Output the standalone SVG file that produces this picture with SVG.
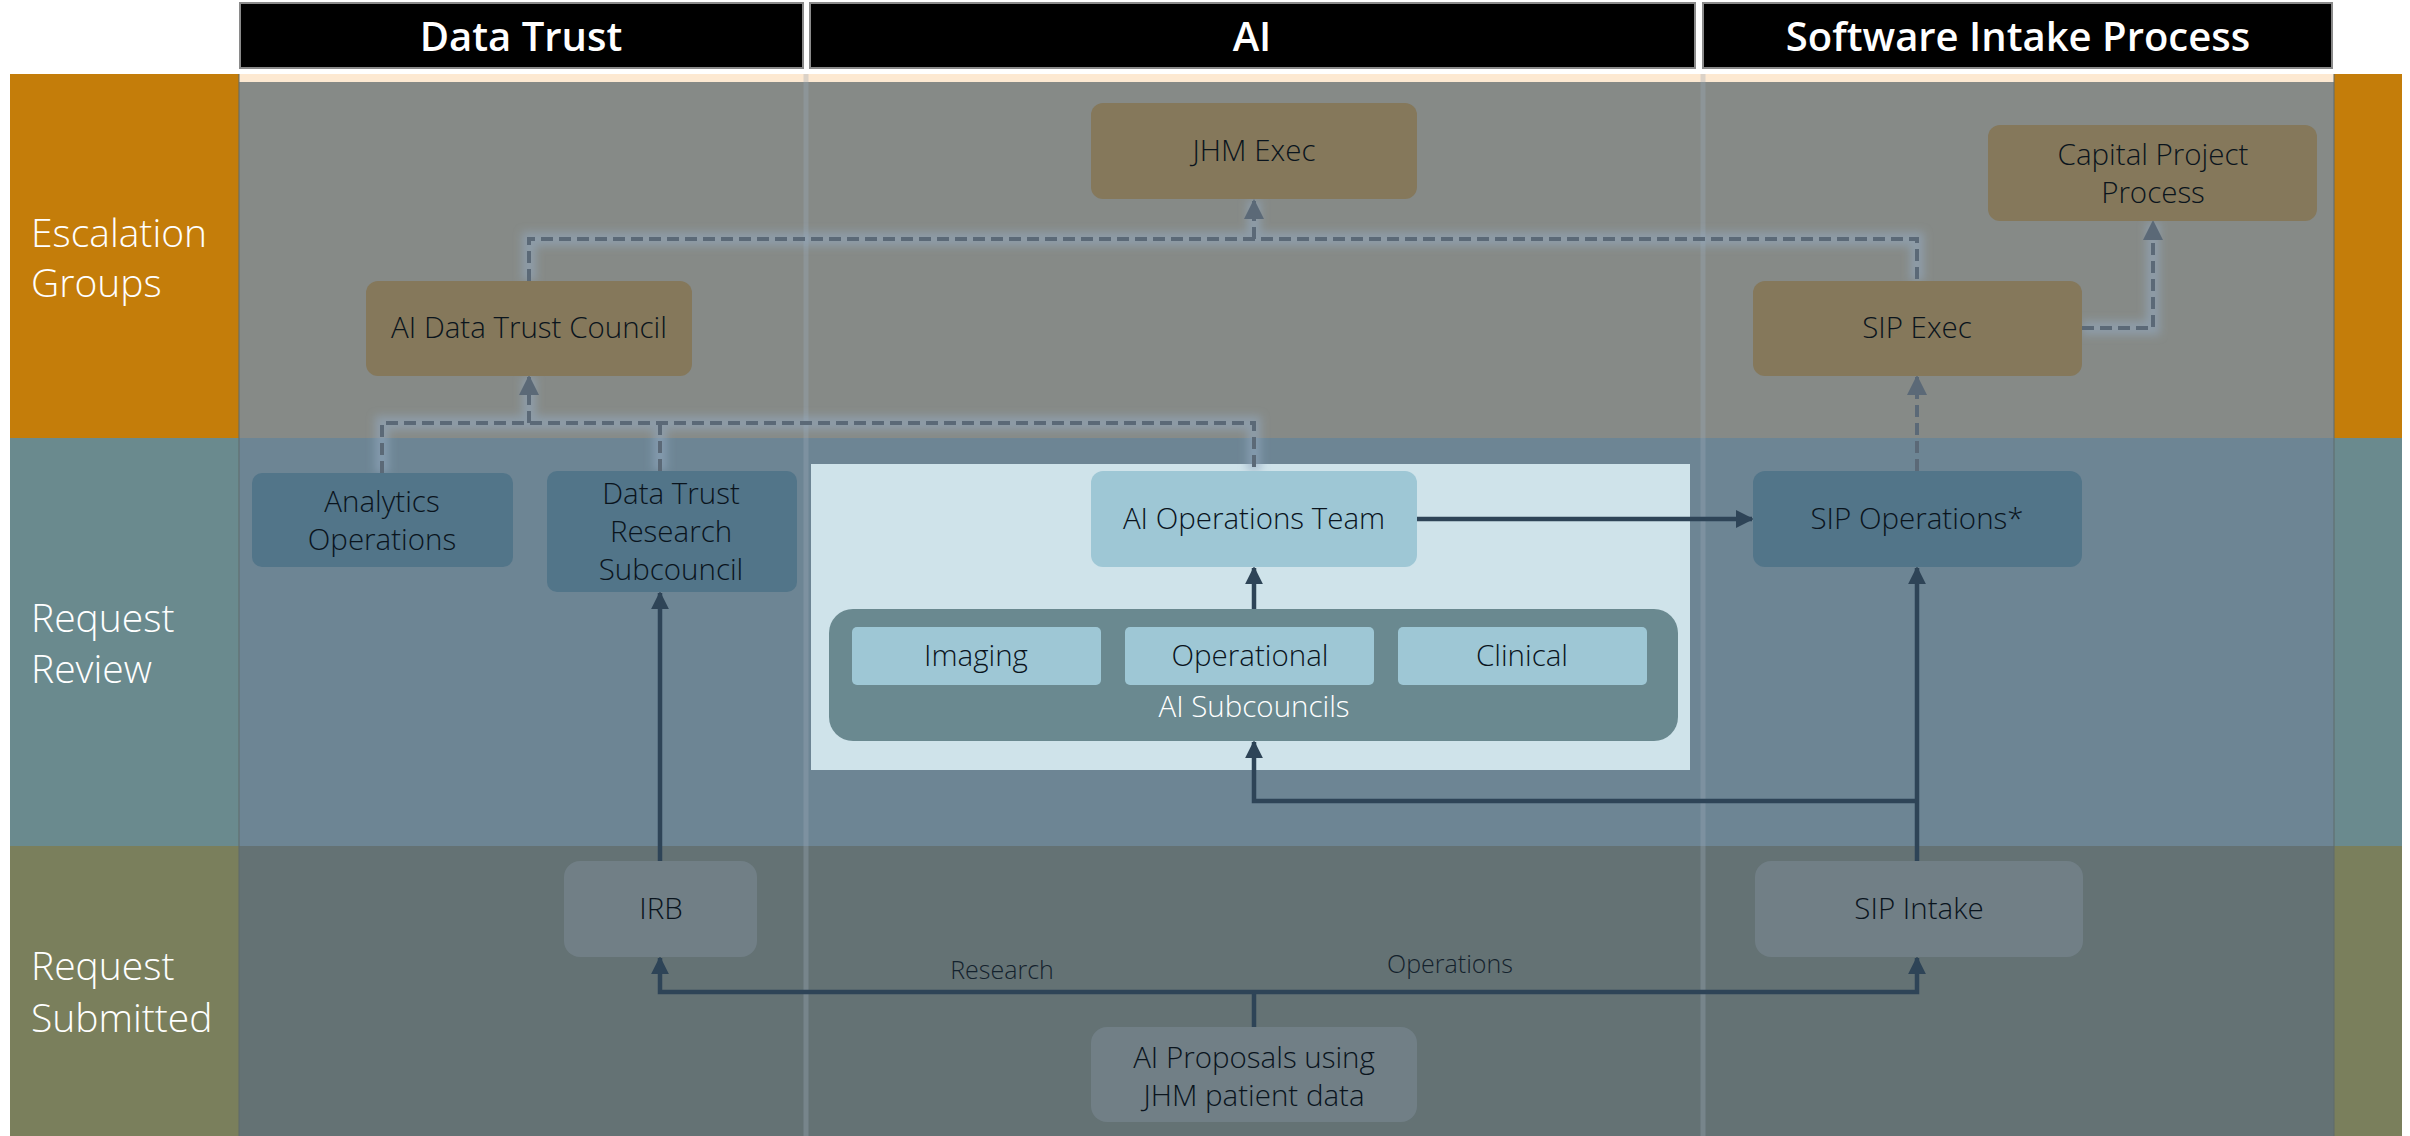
<svg xmlns="http://www.w3.org/2000/svg" width="2410" height="1136" viewBox="0 0 2410 1136">
<style>
.hdr{fill:#000;stroke:#8a8a8a;stroke-width:2}
.htxt{font-family:"Open Sans","Liberation Sans",sans-serif;font-weight:600;font-size:40px;fill:#fff;text-anchor:middle}
.lane{font-family:"Open Sans","Liberation Sans",sans-serif;font-weight:300;font-size:39px;fill:#fff}
.nt{font-family:"Open Sans","Liberation Sans",sans-serif;font-weight:300;font-size:29.5px;fill:#0a141d;text-anchor:middle}
.lbl{font-family:"Open Sans","Liberation Sans",sans-serif;font-weight:300;font-size:25px;fill:#14222d;text-anchor:middle}
.brown{fill:#85785b}
.blue{fill:#527589}
.light{fill:#9ec7d5}
.gray{fill:#717f86}
.glow{fill:none;stroke:#93a9be;stroke-opacity:0.6;stroke-width:14;filter:url(#blur)}
.dash{fill:none;stroke:#5b6977;stroke-width:4;stroke-dasharray:12 6}
.solid{fill:none;stroke:#2e4457;stroke-width:4.5}
.div{stroke:#9aaab8;stroke-opacity:0.35;stroke-width:5}
</style>
<defs>
<filter id="blur" x="-20%" y="-20%" width="140%" height="140%"><feGaussianBlur stdDeviation="4"/></filter>
<marker id="ad" viewBox="0 0 10 10" refX="9" refY="5" markerWidth="5" markerHeight="5" orient="auto" markerUnits="strokeWidth"><path d="M0,0 L10,5 L0,10 z" fill="#5b6977"/></marker>
<marker id="as" viewBox="0 0 10 10" refX="9" refY="5" markerWidth="4" markerHeight="4" orient="auto" markerUnits="strokeWidth"><path d="M0,0 L10,5 L0,10 z" fill="#2e4457"/></marker>
</defs>
<rect width="2410" height="1136" fill="#fff"/>
<g id="lanes">
<rect x="10" y="74" width="229" height="364" fill="#c47d0a"/>
<rect x="10" y="438" width="229" height="408" fill="#6a8a8e"/>
<rect x="10" y="846" width="229" height="290" fill="#7a7f5c"/>
<rect x="2334" y="74" width="68" height="364" fill="#c47d0a"/>
<rect x="2334" y="438" width="68" height="408" fill="#6a8a8e"/>
<rect x="2334" y="846" width="68" height="290" fill="#7a7f5c"/>
<rect x="239" y="74" width="2095" height="8" fill="#fde9d2"/>
<rect x="239" y="82" width="2095" height="356" fill="#868a87"/>
<rect x="239" y="438" width="2095" height="408" fill="#6d8594"/>
<rect x="239" y="846" width="2095" height="290" fill="#647274"/>
<line x1="239" y1="74" x2="239" y2="1136" stroke="#5e6a6a" stroke-width="1"/>
<line x1="2334" y1="74" x2="2334" y2="1136" stroke="#5e6a6a" stroke-width="1"/>
<line class="div" x1="806" y1="74" x2="806" y2="1136"/>
<line class="div" x1="1703" y1="74" x2="1703" y2="1136"/>
<text class="lane" x="31" y="247">Escalation</text>
<text class="lane" x="31" y="297">Groups</text>
<text class="lane" x="31" y="632">Request</text>
<text class="lane" x="31" y="683">Review</text>
<text class="lane" x="31" y="980">Request</text>
<text class="lane" x="31" y="1032">Submitted</text>
</g>
<g id="headers">
<rect class="hdr" x="240" y="3" width="563" height="65"/>
<rect class="hdr" x="810" y="3" width="885" height="65"/>
<rect class="hdr" x="1703" y="3" width="629" height="65"/>
<text class="htxt" x="521" y="51">Data Trust</text>
<text class="htxt" x="1252" y="51">AI</text>
<text class="htxt" x="2018" y="51">Software Intake Process</text>
</g>
<g id="ai-panel">
<rect x="811" y="464" width="879" height="306" fill="#cfe3ea"/>
</g>
<g id="connectors">
<path class="glow" d="M529,281 V239 H1917 V281 M1254,239 V200"/>
<path class="glow" d="M2082,328 H2153 V222"/>
<path class="glow" d="M382,473 V423 H1254 V471 M660,471 V423 M529,423 V377"/>
<path class="glow" d="M1917,471 V377"/>
<path class="dash" d="M529,281 V239 H1917 V281"/>
<path class="dash" d="M1254,239 V201" marker-end="url(#ad)"/>
<path class="dash" d="M2082,328 H2153 V222" marker-end="url(#ad)"/>
<path class="dash" d="M382,473 V423 H1254 V471"/>
<path class="dash" d="M660,471 V423"/>
<path class="dash" d="M529,423 V377" marker-end="url(#ad)"/>
<path class="dash" d="M1917,471 V377" marker-end="url(#ad)"/>
<path class="solid" d="M1254,609 V568" marker-end="url(#as)"/>
<path class="solid" d="M1417,519 H1752" marker-end="url(#as)"/>
<path class="solid" d="M1917,861 V568" marker-end="url(#as)"/>
<path class="solid" d="M1917,801 H1254 V742" marker-end="url(#as)"/>
<path class="solid" d="M660,861 V593" marker-end="url(#as)"/>
<path class="solid" d="M1254,1027 V992"/>
<path class="solid" d="M1254,992 H660 V958" marker-end="url(#as)"/>
<path class="solid" d="M1254,992 H1917 V958" marker-end="url(#as)"/>
<text class="lbl" x="1002" y="979">Research</text>
<text class="lbl" x="1450" y="973">Operations</text>
</g>
<g id="jhm-exec">
<rect class="brown" x="1091" y="103" width="326" height="96" rx="12"/>
<text class="nt" x="1254" y="161">JHM Exec</text>
</g>
<g id="ai-data-trust-council">
<rect class="brown" x="366" y="281" width="326" height="95" rx="12"/>
<text class="nt" x="529" y="338">AI Data Trust Council</text>
</g>
<g id="capital-project-process">
<rect class="brown" x="1988" y="125" width="329" height="96" rx="12"/>
<text class="nt" x="2153" y="165">Capital Project</text>
<text class="nt" x="2153" y="203">Process</text>
</g>
<g id="sip-exec">
<rect class="brown" x="1753" y="281" width="329" height="95" rx="12"/>
<text class="nt" x="1917" y="338">SIP Exec</text>
</g>
<g id="analytics-operations">
<rect class="blue" x="252" y="473" width="261" height="94" rx="10"/>
<text class="nt" x="382" y="512">Analytics</text>
<text class="nt" x="382" y="550">Operations</text>
</g>
<g id="data-trust-research-subcouncil">
<rect class="blue" x="547" y="471" width="250" height="121" rx="10"/>
<text class="nt" x="671" y="504">Data Trust</text>
<text class="nt" x="671" y="542">Research</text>
<text class="nt" x="671" y="580">Subcouncil</text>
</g>
<g id="ai-operations-team">
<rect class="light" x="1091" y="471" width="326" height="96" rx="12"/>
<text class="nt" x="1254" y="529">AI Operations Team</text>
</g>
<g id="sip-operations">
<rect class="blue" x="1753" y="471" width="329" height="96" rx="12"/>
<text class="nt" x="1917" y="529">SIP Operations*</text>
</g>
<g id="ai-subcouncils">
<rect x="829" y="609" width="849" height="132" rx="24" fill="#6a8990"/>
<text class="nt" x="1254" y="717" style="fill:#fff">AI Subcouncils</text>
</g>
<g id="imaging">
<rect class="light" x="852" y="627" width="249" height="58" rx="5"/>
<text class="nt" x="976" y="666">Imaging</text>
</g>
<g id="operational">
<rect class="light" x="1125" y="627" width="249" height="58" rx="5"/>
<text class="nt" x="1250" y="666">Operational</text>
</g>
<g id="clinical">
<rect class="light" x="1398" y="627" width="249" height="58" rx="5"/>
<text class="nt" x="1522" y="666">Clinical</text>
</g>
<g id="irb">
<rect class="gray" x="564" y="861" width="193" height="96" rx="16"/>
<text class="nt" x="661" y="919">IRB</text>
</g>
<g id="sip-intake">
<rect class="gray" x="1755" y="861" width="328" height="96" rx="16"/>
<text class="nt" x="1919" y="919">SIP Intake</text>
</g>
<g id="ai-proposals">
<rect class="gray" x="1091" y="1027" width="326" height="95" rx="16"/>
<text class="nt" x="1254" y="1068">AI Proposals using</text>
<text class="nt" x="1254" y="1106">JHM patient data</text>
</g>
</svg>
